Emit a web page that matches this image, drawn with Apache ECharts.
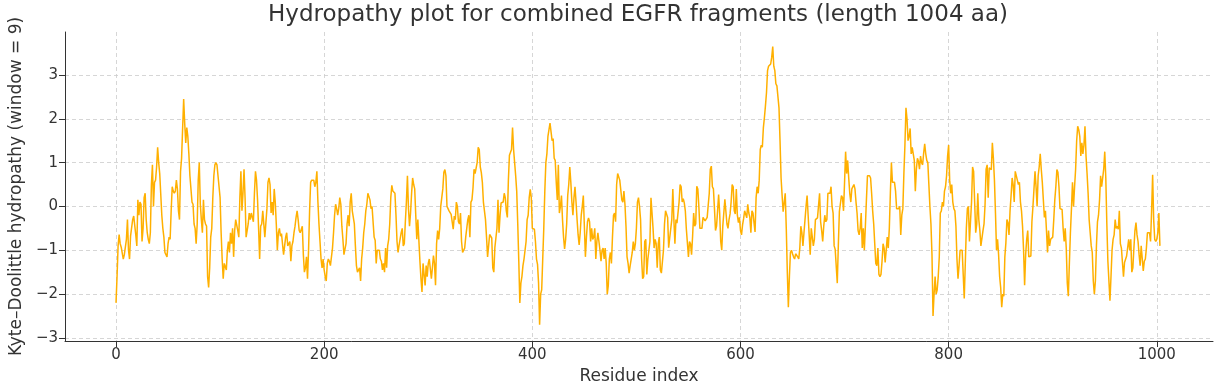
<!DOCTYPE html>
<html>
<head>
<meta charset="utf-8">
<script src="https://cdn.jsdelivr.net/npm/echarts@6/dist/echarts.min.js"></script>
<style>html,body{margin:0;padding:0;background:#fff}#c{width:1221px;height:392px}</style>
</head>
<body>
<div id="c"></div>
<script>
const titleText = 'Hydropathy plot for combined EGFR fragments (length 1004 aa)';
const xAxisName = 'Residue index';
const yAxisName = 'Kyte\u2013Doolittle hydropathy (window = 9)';
const xTicks = [0, 200, 400, 600, 800, 1000];
const yTicks = [-3, -2, -1, 0, 1, 2, 3];
const hydropathy = [
-2.2,-1.6,-0.9,-0.64,-0.85,-0.93,-0.97,-1.2,-1.1,-1.1,
-0.75,-0.3,-1.0,-1.2,-0.67,-0.66,-0.3,-0.22,-0.25,-0.65,
-0.9,0.15,-0.2,0.1,0.05,-0.8,-0.5,0.2,0.3,-0.3,
-0.6,-0.75,-0.85,-0.6,0.5,0.95,0.0,0.55,0.6,0.9,
1.35,1.0,0.75,0.75,-0.2,-0.5,-0.7,-1.05,-1.1,-1.15,
-0.85,-0.7,-0.75,-0.1,0.45,0.35,0.3,0.35,0.6,0.4,
-0.1,-0.3,0.8,1.1,1.1,2.45,1.9,1.45,1.8,1.6,
1.2,0.7,0.7,0.1,0.05,-0.4,-0.5,-0.85,-0.4,0.6,
1.0,0.05,-0.3,-0.6,0.15,-0.3,-0.4,-0.45,-1.6,-1.85,
-1.4,-0.7,-0.5,0.2,0.7,0.95,1.0,0.95,0.7,0.68,
0.2,-0.6,-1.2,-1.65,-1.3,-1.3,-1.45,-1.0,-0.8,-1.05,
-0.6,-0.85,-0.5,-1.15,-0.55,-0.3,-0.3,-0.55,-0.7,0.2,
0.8,-0.1,0.3,0.85,0.2,-0.7,-0.55,-0.4,-0.15,-0.3,
-0.15,-0.25,-0.35,0.3,0.8,0.6,0.15,-0.5,-1.2,-0.45,
-0.4,-0.1,-0.1,-0.7,-0.7,-0.05,0.55,0.65,0.5,-0.15,
0.1,-0.2,0.4,0.1,-0.4,-1.0,-0.6,-0.5,-0.68,-0.62,
-0.65,-1.1,-0.9,-0.7,-0.6,-0.9,-0.85,-0.8,-1.25,-0.9,
-0.8,-0.6,-0.45,-0.25,-0.1,-0.3,-0.55,-0.6,-0.6,-0.45,
-1.1,-1.5,-1.4,-1.15,-1.65,-1.0,-0.1,0.55,0.6,0.6,
0.6,0.45,0.55,0.8,0.1,-0.4,-0.8,-1.2,-1.4,-1.2,
-1.45,-1.6,-1.7,-1.3,-1.2,-1.25,-1.35,-1.15,-0.95,-0.6,
-0.2,0.05,-0.05,-0.2,-0.05,0.2,0.05,-0.45,-0.75,-1.1,
-1.1,-0.85,-0.4,-0.2,-0.45,0.1,0.3,-0.1,-0.07,-0.4,
-0.9,-1.35,-1.5,-1.47,-1.4,-1.7,-1.2,-0.95,-0.6,-0.4,
-0.1,0.05,0.3,0.3,0.15,-0.05,0.0,0.0,-0.7,-0.77,
-1.3,-1.0,-0.98,-1.0,-1.2,-1.25,-1.45,-1.3,-1.5,-0.95,
-1.4,-0.9,-0.75,-0.4,0.2,0.48,0.35,0.35,0.3,-0.2,
-0.8,-1.05,-0.88,-0.87,-0.6,-0.5,-0.9,-0.85,-0.35,0.1,
0.7,-0.05,-0.45,-0.15,0.3,0.65,0.5,0.4,-0.2,-0.75,
-0.3,-0.3,-1.25,-1.65,-1.95,-1.3,-1.55,-1.8,-1.35,-1.6,
-1.3,-1.2,-1.2,-1.65,-1.4,-1.12,-1.3,-1.8,-0.85,-0.55,
-0.75,-0.5,0.0,0.2,0.4,0.78,0.84,0.7,0.0,-0.03,
-0.1,-0.13,-0.18,-0.22,-0.52,-0.22,-0.3,0.1,0.0,-0.35,
-0.4,-0.15,-0.8,-1.05,-1.0,-0.95,-0.7,-0.68,-0.3,-0.2,
-0.7,0.1,0.15,0.42,0.85,0.75,0.77,1.0,1.35,1.3,
0.9,0.77,0.55,0.1,0.1,-0.3,-0.7,-1.15,-0.9,-0.64,
-0.64,-0.72,-1.4,-1.5,-0.94,-0.9,-0.5,0.15,-0.6,-0.2,
0.08,0.08,0.1,0.3,0.2,-0.1,-0.25,0.6,1.17,1.2,
1.3,1.8,1.3,1.0,0.7,0.35,-0.4,-1.25,-2.2,-1.75,
-1.6,-1.35,-1.2,-1.17,-0.8,-0.3,-0.2,0.2,0.39,0.2,
-0.5,-0.5,-0.52,-0.8,-1.2,-1.32,-1.75,-2.7,-2.0,-1.9,
-1.2,-0.5,0.35,1.0,1.2,1.6,1.75,1.9,1.7,1.5,
1.55,1.1,1.05,0.55,0.15,0.95,-0.15,0.0,0.25,-0.3,
-0.7,-0.97,-0.75,-0.4,0.25,0.5,0.9,0.55,0.1,-0.2,
0.2,0.45,0.1,-0.3,-0.65,-0.88,-0.6,-0.2,0.0,0.25,
-0.45,-1.15,-0.7,-0.35,-0.26,-0.35,-0.8,-0.5,-0.75,-0.7,
-0.5,-1.2,-0.8,-0.6,-0.6,-1.0,-1.25,-1.0,-0.95,-1.2,
-0.95,-1.3,-2.0,-1.8,-1.2,-1.05,-1.3,-0.7,-0.2,-0.15,
-0.35,0.5,0.75,0.75,0.6,0.6,0.15,0.1,0.35,0.05,
-0.45,-1.15,-1.3,-1.52,-1.35,-1.2,-1.05,-0.8,-1.0,-0.85,
-0.5,0.1,0.2,0.0,-0.3,-1.2,-1.65,-1.6,-0.8,-0.75,
-1.55,-1.2,-1.2,-0.8,0.2,0.17,-0.5,-0.95,-0.75,-0.85,
-1.4,-0.85,-0.7,-1.45,-1.52,-1.55,-1.0,-0.4,-0.1,-0.12,
-0.25,-0.94,-0.72,-0.7,-0.3,0.4,-0.3,-0.85,-0.3,-0.38,
-0.4,0.1,0.5,0.45,0.1,0.18,0.08,-0.1,-0.52,-0.55,
-1.15,-0.8,-0.85,-1.1,-0.68,-0.15,-0.45,-0.4,0.46,0.4,
0.0,-0.5,-0.48,-0.5,-0.25,-0.27,-0.33,-0.35,-0.25,0.03,
0.3,0.85,0.92,0.45,0.4,-0.05,-0.55,-0.45,-0.1,0.27,
-0.15,-0.8,-1.0,-0.45,-0.45,0.16,0.12,-0.4,-0.5,-0.3,
-0.17,0.1,0.5,0.45,-0.1,-0.17,0.4,-0.2,-0.37,-0.25,
-0.55,-0.65,-0.42,-0.28,-0.1,-0.1,-0.26,0.05,-0.15,-0.25,
-0.6,-0.1,-0.15,-0.37,-0.58,0.2,0.45,0.3,0.6,1.3,
1.4,1.35,1.8,2.03,2.3,2.6,3.1,3.2,3.2,3.25,
3.4,3.65,3.2,3.1,2.8,2.75,2.72,2.25,1.5,0.65,
0.25,-0.12,-0.12,0.3,-0.5,-1.5,-2.3,-1.6,-1.05,-1.0,
-1.08,-1.15,-1.2,-1.08,-1.08,-1.15,-1.2,-0.95,-0.45,-0.6,
-0.9,-0.6,-0.3,0.0,0.25,-0.2,-0.65,-1.1,-0.5,-0.5,
-0.9,-0.75,-0.3,-0.26,-0.26,-0.25,0.3,-0.35,-0.55,-0.8,
-0.45,-0.2,-0.35,-0.3,0.3,0.3,0.3,0.45,0.0,-0.15,
-0.9,-0.98,-0.95,-1.75,-0.9,-0.12,-0.08,0.25,0.2,-0.1,
0.55,1.25,0.75,1.05,0.65,0.3,0.1,0.4,0.4,0.5,
0.4,0.1,-0.15,-0.55,-0.65,-0.5,-0.15,-0.95,-0.5,-1.0,
-0.45,0.15,0.7,0.7,0.7,0.65,0.3,-0.1,-0.4,-0.85,
-1.3,-1.35,-0.95,-1.55,-1.6,-1.55,-1.25,-0.85,-0.95,-1.28,
-1.0,-0.7,-0.95,-0.5,0.3,1.0,0.55,0.55,0.55,0.35,
-0.05,-0.05,-0.05,0.0,-0.65,-0.2,-0.05,0.75,1.4,2.25,
2.0,1.5,1.6,1.78,1.2,1.35,1.38,1.05,0.35,0.85,
1.1,1.03,0.85,1.15,1.0,0.95,1.22,1.43,1.2,1.05,
1.0,0.5,0.0,-0.4,-1.1,-2.5,-2.0,-1.6,-2.0,-1.9,
-1.6,-1.15,-0.15,-0.1,0.1,0.0,0.35,0.45,0.7,1.15,
1.4,0.6,0.3,0.5,0.1,-0.05,-0.1,-0.45,-1.2,-1.65,
-1.35,-1.0,-0.98,-1.0,-1.55,-2.1,-1.3,-0.5,-0.05,0.0,
-0.8,-0.8,0.1,0.9,0.8,0.1,-0.6,-0.4,0.3,-0.3,
-0.55,-0.9,-0.9,-0.55,-0.4,0.05,0.85,0.95,0.2,0.88,
0.87,0.84,1.45,1.1,0.6,-0.15,-1.0,-0.75,-1.1,-1.6,
-1.85,-2.3,-2.0,-2.05,-1.15,-0.83,-0.3,-0.37,-0.65,-0.1,
0.25,0.65,0.5,0.1,0.8,0.8,0.6,0.5,0.55,0.1,
-0.1,-0.45,-1.0,-1.8,-1.1,-0.75,-0.55,-1.15,-1.17,-1.13,
-0.35,0.0,0.4,0.8,0.45,0.0,0.7,0.9,1.2,0.85,
0.55,0.15,-0.25,-0.1,-0.55,-1.05,-0.55,-0.9,-0.75,-0.75,
-0.7,-0.3,0.15,0.45,0.84,0.78,0.45,-0.05,-0.03,-0.07,
-0.5,-0.8,-0.5,-0.95,-1.75,-2.05,-1.3,-0.6,-0.05,0.55,
0.0,0.45,0.85,1.5,1.83,1.75,1.6,1.15,1.45,1.2,
1.4,1.83,1.15,0.75,0.3,-0.3,-0.6,-0.9,-1.05,-1.7,
-2.0,-1.7,-0.9,-0.35,-0.2,0.15,0.7,0.45,0.45,0.85,
1.25,0.65,-0.4,-1.25,-1.25,-2.15,-1.6,-1.0,-0.75,-0.65,
-0.3,-0.5,-0.45,-0.52,-0.1,-0.85,-0.95,-1.28,-1.6,-1.28,
-1.28,-1.13,-1.13,-0.75,-1.0,-0.75,-1.5,-1.4,-0.95,-0.55,
-0.37,-0.65,-0.8,-1.1,-1.35,-0.9,-0.9,-1.47,-1.25,-1.2,
-0.95,-0.6,-0.6,-0.6,-0.8,-0.1,0.72,-0.3,-0.75,-0.8,
-0.75,-0.6,-0.15,-0.9
];

const seriesData = hydropathy.map((v, i) => [i, v]);
const fmt = v => (v < 0 ? '\u2212' + Math.abs(v) : String(v));
const FONT = 'DejaVu Sans';
const TXT = '#333333';

const chart = echarts.init(document.getElementById('c'), null, {renderer: 'canvas'});
chart.setOption({
  animation: false,
  backgroundColor: '#ffffff',
  textStyle: {fontFamily: FONT},
  graphic: [{
    type: 'text', x: 638, y: 4,
    style: {text: titleText, fill: TXT, font: '23px "DejaVu Sans"', align: 'center', textAlign: 'center'}
  }],
  grid: {left: 63, right: 8, top: 32, bottom: 51, containLabel: false},
  xAxis: {
    type: 'value', min: -49, max: 1054,
    name: xAxisName, nameLocation: 'middle', nameGap: 26,
    nameTextStyle: {fontSize: 17, color: TXT, fontFamily: FONT},
    axisLine: {show: true, onZero: false, lineStyle: {color: '#333', width: 1}},
    axisTick: {show: true, length: 6, customValues: xTicks, lineStyle: {color: '#333'}},
    axisLabel: {customValues: xTicks, fontSize: 15, color: TXT, margin: 7, fontFamily: FONT, formatter: fmt},
    splitLine: {show: true, lineStyle: {color: '#cccccc', type: [4, 3], width: 0.8}}
  },
  yAxis: {
    type: 'value', min: -3.07, max: 3.98,
    name: yAxisName, nameLocation: 'middle', nameGap: 36, nameRotate: 90,
    nameTextStyle: {fontSize: 17, color: TXT, fontFamily: FONT},
    axisLine: {show: true, onZero: false, lineStyle: {color: '#333', width: 1}},
    axisTick: {show: true, length: 6, customValues: yTicks, lineStyle: {color: '#333'}},
    axisLabel: {customValues: yTicks, fontSize: 15, color: TXT, margin: 7, fontFamily: FONT, formatter: fmt},
    splitLine: {show: true, lineStyle: {color: '#cccccc', type: [4, 3], width: 0.8}}
  },
  series: [{
    type: 'line', data: seriesData, showSymbol: false, symbol: 'none',
    lineStyle: {color: '#ffb000', width: 1.5}, z: 3
  }]
});
</script>
</body>
</html>
